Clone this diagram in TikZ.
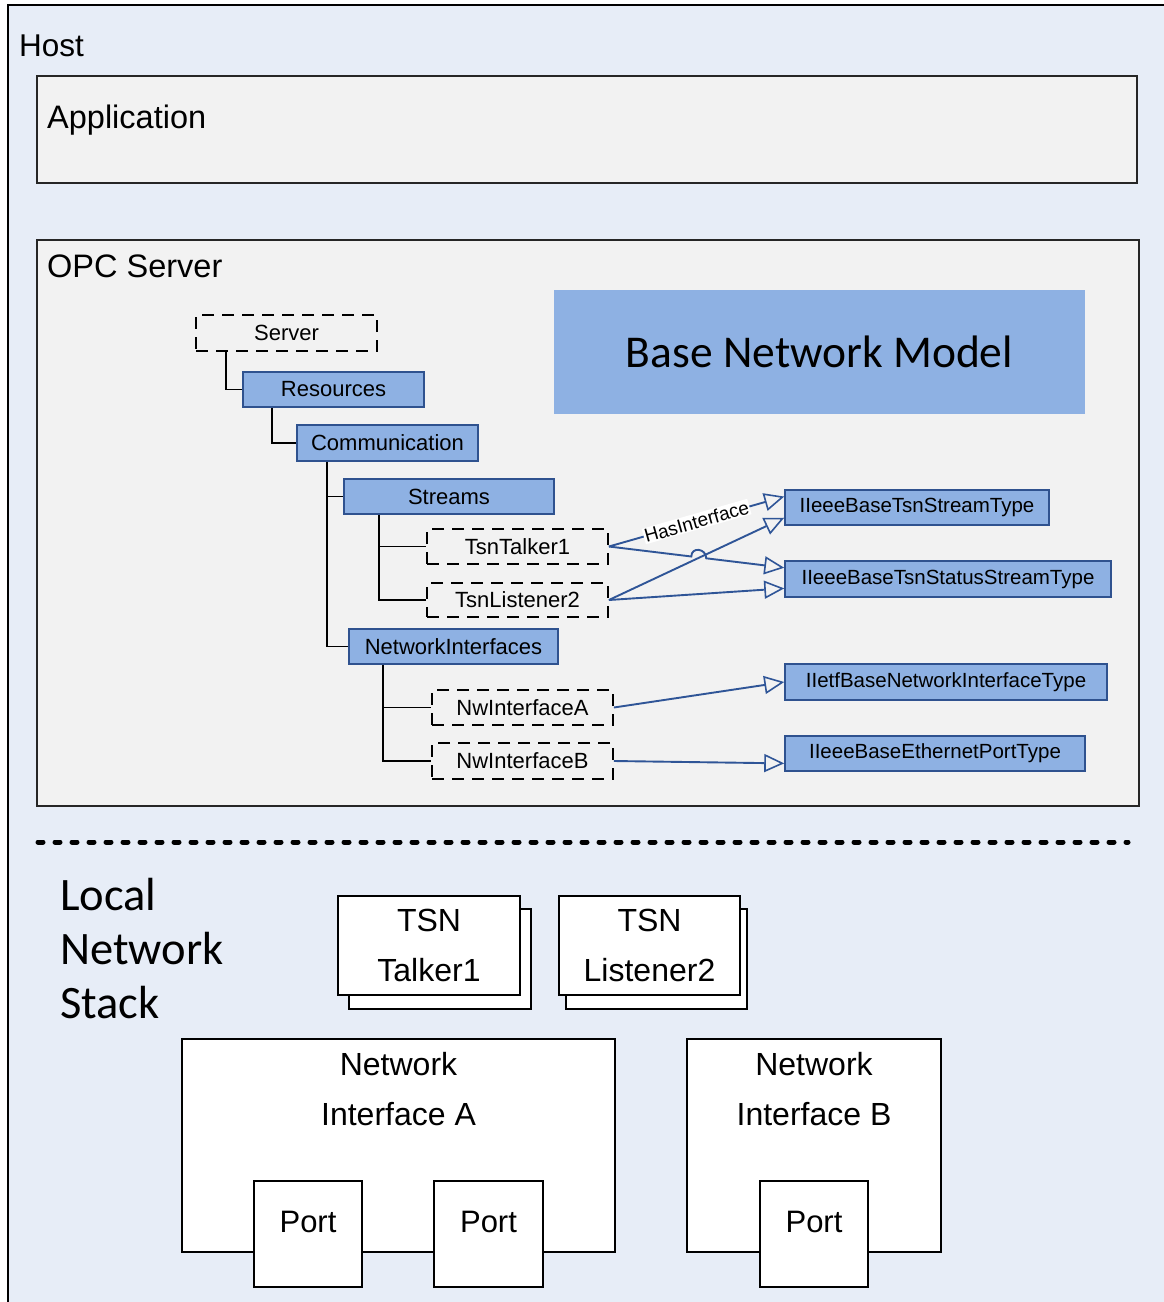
\documentclass[tikz,border=0pt]{standalone}
\usepackage{fontspec}
\setmainfont{Liberation Sans}
\newfontfamily\calib{Carlito}
\usetikzlibrary{arrows.meta,calc}
\definecolor{hostbg}{HTML}{E7EDF7}
\definecolor{boxbg}{HTML}{F2F2F2}
\definecolor{bfill}{HTML}{8EB1E3}
\definecolor{bline}{HTML}{2F528F}
\definecolor{aline}{HTML}{2F5597}
\newcommand\myfs[1]{\fontsize{#1}{#1}\selectfont}
\newcommand\rbox[7]{\node[#2,minimum width={#5-#3},minimum height={#6-#4}] (#1) at ({(#3+#5)/2},{(#4+#6)/2}) {#7};}
\begin{document}
\begin{tikzpicture}[x=1pt,y=-1pt,
  hostframe/.style={draw=black, fill=hostbg, line width=2pt, inner sep=0},
  greybox/.style={draw=black!85, fill=boxbg, line width=2pt, inner sep=0},
  bnmbox/.style={fill=bfill, inner sep=0, font={\calib\myfs{45.5pt}}},
  treebox/.style={draw=bline, fill=bfill, line width=1.5pt, inner sep=0, font=\myfs{22pt}},
  dashbox/.style={draw=black, dash pattern=on 12pt off 8pt, line width=1.8pt, inner sep=0, font=\myfs{22pt}},
  typebox/.style={draw=bline, fill=bfill, line width=1.5pt, inner sep=0, font=\myfs{20.5pt}},
  tline/.style={draw=black, line width=1.8pt},
  rel/.style={draw=aline, line width=1.9pt, -{Triangle[open,length=20pt,width=18pt,line width=1.6pt]}},
  plainbox/.style={draw=black, fill=white, line width=1.4pt, inner sep=0},
  bigtxt/.style={align=center, font={\fontsize{32pt}{50pt}\selectfont}},
  titletxt/.style={anchor=base west, inner sep=0, font=\myfs{32.5pt}},
]
\useasboundingbox (0,0) rectangle (1164,1302);
\fill[white] (0,0) rectangle (1164,1302);
\rbox{host}{hostframe}{8}{5}{1190}{1330}{}
\node[titletxt, font=\myfs{31.5pt}] (hostlbl) at (19,56) {Host};
\rbox{app}{greybox}{37}{76}{1137}{183}{}
\node[titletxt] (applbl) at (47,128) {Application};
\rbox{opc}{greybox}{37}{240}{1139}{806}{}
\node[titletxt] (opclbl) at (47,277) {OPC Server};
\rbox{bnm}{bnmbox}{554}{290}{1085}{414}{Base Network Model}
% tree
\rbox{server}{dashbox}{196}{315}{377}{351}{Server}
\rbox{res}{treebox}{243}{372}{424}{407}{Resources}
\rbox{comm}{treebox}{297}{425}{478}{461}{Communication}
\rbox{streams}{treebox}{344}{479}{554}{514}{Streams}
\rbox{talker}{dashbox}{427}{529}{608}{564}{TsnTalker1}
\rbox{listener}{dashbox}{427}{583}{608}{617}{TsnListener2}
\rbox{netif}{treebox}{349}{629}{558}{664}{NetworkInterfaces}
\rbox{nwa}{dashbox}{432}{690}{613}{725}{NwInterfaceA}
\rbox{nwb}{dashbox}{432}{743}{613}{779}{NwInterfaceB}
\draw[tline] ($(server.south west)+(31,0)$) |- (res.west);
\draw[tline] ($(res.south west)+(30,0)$) |- (comm.west);
\draw[tline] ($(comm.south west)+(31,0)$) |- (streams.west);
\draw[tline] ($(comm.south west)+(31,0)$) |- (netif.west);
\draw[tline] ($(streams.south west)+(36,0)$) |- (talker.west);
\draw[tline] ($(streams.south west)+(36,0)$) |- (listener.west);
\draw[tline] ($(netif.south west)+(35,0)$) |- (nwa.west);
\draw[tline] ($(netif.south west)+(35,0)$) |- (nwb.west);
% types
\rbox{tstream}{typebox}{785}{490}{1049}{525}{IIeeeBaseTsnStreamType}
\rbox{tstatus}{typebox}{785}{561}{1111}{597}{IIeeeBaseTsnStatusStreamType}
\rbox{tietf}{typebox}{785}{664}{1107}{700}{IIetfBaseNetworkInterfaceType}
\rbox{teth}{typebox}{785}{736}{1085}{771}{IIeeeBaseEthernetPortType}
\coordinate (p1) at ($(tstream.north west)!0.2!(tstream.south west)$);
\coordinate (p3) at ($(tstream.north west)!0.78!(tstream.south west)$);
\coordinate (p2) at ($(tstatus.north west)!0.2!(tstatus.south west)$);
\coordinate (p4) at ($(tstatus.north west)!0.75!(tstatus.south west)$);
\coordinate (p6) at ($(teth.north west)!0.77!(teth.south west)$);
\coordinate (h1) at ($(talker.east)!0.47!(p2)$);
\coordinate (h2) at ($(talker.east)!0.555!(p2)$);
\draw[rel] (talker.east) -- node[sloped, fill=white, inner sep=1pt, font=\myfs{19pt}] (hasif) {HasInterface} (p1);
\draw[rel] (talker.east) -- (h1) .. controls +(0,-10) and +(0,-10) .. (h2) -- (p2);
\draw[rel] (listener.east) -- (p3);
\draw[rel] (listener.east) -- (p4);
\draw[rel] (nwa.east) -- (tietf.west);
\draw[rel] (nwb.east) -- (p6);
% separator
\coordinate (sepL) at (38,842);
\coordinate (sepR) at (1128,842);
\draw[line width=5pt, line cap=round, dash pattern=on 5pt off 12pt] (sepL) -- (sepR);
% local stack
\node[anchor=west, align=left, inner sep=0, font={\calib\fontsize{46.5pt}{54pt}\selectfont}] (lns) at (60,949) {Local\\Network\\Stack};
\rbox{tkback}{plainbox}{349}{909}{531}{1009}{}
\rbox{tk}{plainbox,bigtxt}{338}{896}{520}{995}{TSN\\Talker1}
\rbox{lsback}{plainbox}{566}{909}{747}{1009}{}
\rbox{ls}{plainbox,bigtxt}{559}{896}{740}{995}{TSN\\Listener2}
\rbox{nia}{plainbox}{182}{1039}{615}{1252}{}
\node[bigtxt] (nialbl) at ($(nia.north)+(0,51)$) {Network\\Interface A};
\rbox{nib}{plainbox}{687}{1039}{941}{1252}{}
\node[bigtxt] (niblbl) at ($(nib.north)+(0,51)$) {Network\\Interface B};
\rbox{pa1}{plainbox}{254}{1181}{362}{1287}{}
\rbox{pa2}{plainbox}{434}{1181}{543}{1287}{}
\rbox{pb1}{plainbox}{760}{1181}{868}{1287}{}
\node[font=\myfs{31pt}] (pa1lbl) at ($(pa1.center)+(0,-12)$) {Port};
\node[font=\myfs{31pt}] (pa2lbl) at ($(pa2.center)+(0,-12)$) {Port};
\node[font=\myfs{31pt}] (pb1lbl) at ($(pb1.center)+(0,-12)$) {Port};
\end{tikzpicture}
\end{document}
